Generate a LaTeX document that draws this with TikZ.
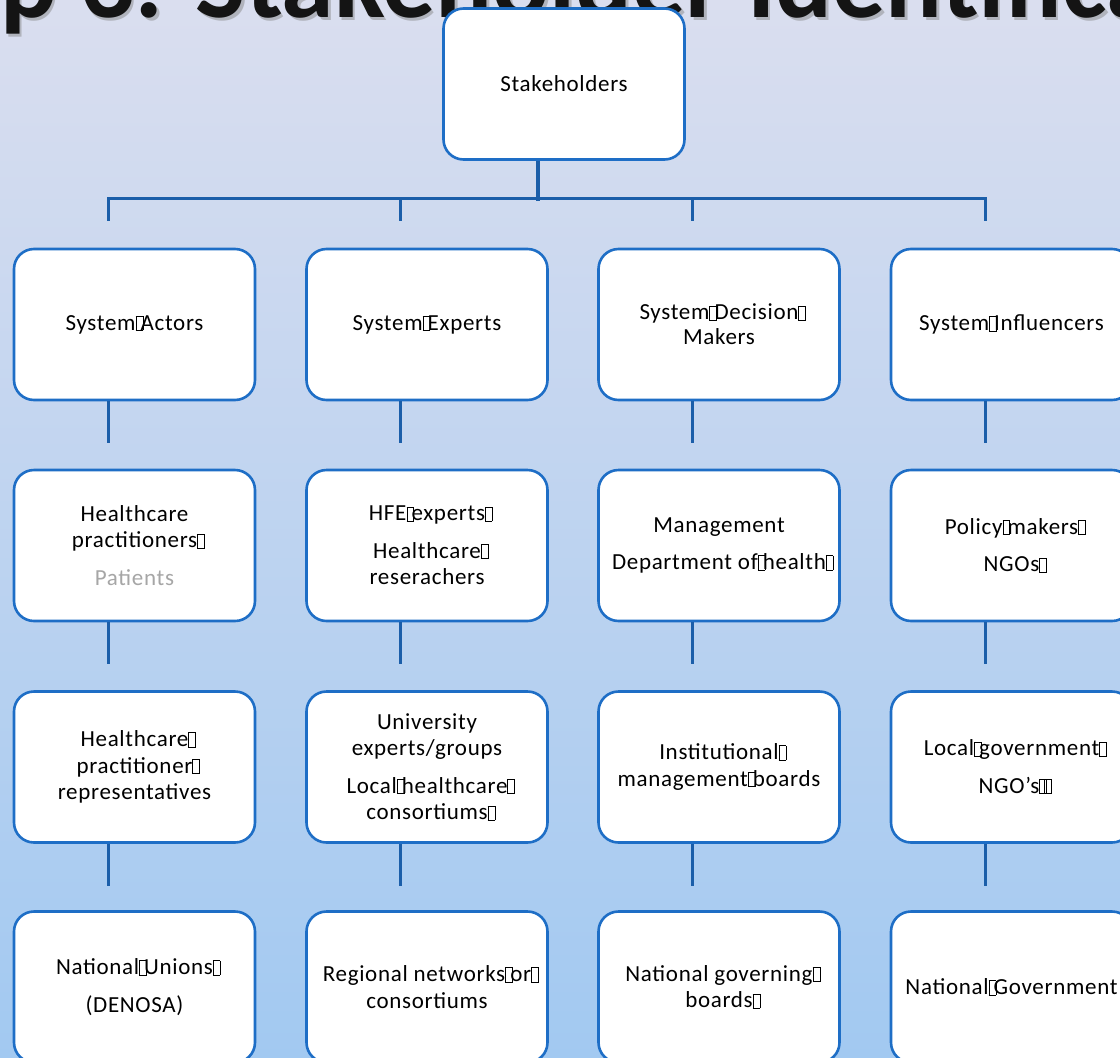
\documentclass[tikz,border=0pt]{standalone}
\usepackage{fontspec}
\setmainfont{Carlito}
\newfontfamily\cardfont{Carlito}[LetterSpace=3]
\usetikzlibrary{calc}

\definecolor{bgtop}{HTML}{DADEEF}
\definecolor{bgmid}{HTML}{C0D4EB}
\definecolor{bgbot}{HTML}{A2C9F1}
\definecolor{boxline}{HTML}{1E6EC6}
\definecolor{linkline}{HTML}{1B5EA9}
\definecolor{muted}{HTML}{A6A6A6}

% placeholder glyph box printed where a character is missing
\newcommand{\mg}{\rlap{\fboxsep=0pt\fboxrule=0.5pt\fbox{\vrule width 0pt height 0.6em\hspace{0.28em}}}\hspace{0.22em}}

\begin{document}
\begin{tikzpicture}[x=1pt,y=-1pt,
  every node/.style={font=\cardfont\fontsize{23}{26.5}\selectfont},
  card/.style={draw=boxline, line width=2.6pt, fill=white, rounded corners=20pt,
    minimum width=241pt, minimum height=151pt, align=center, inner sep=0pt},
  link/.style={draw=linkline, line width=3pt},
  trunk/.style={link, line width=4.2pt},
  headline/.style={anchor=base west, inner sep=0pt, font=\rmfamily\fontsize{106}{110}\selectfont\bfseries}]

\useasboundingbox (0,0) rectangle (1120,1058);
\clip (0,0) rectangle (1120,1058);
\shade[top color=bgtop, middle color=bgmid, bottom color=bgbot] (0,0) rectangle (1120,1058);

% heading with its soft drop shadow
\node[headline, text=black!50, opacity=0.45] (headshadow) at (2.5,20) {p 3: Stakeholder Identification};
\node[headline, text=black!92] (head) at (0,17.5) {p 3: Stakeholder Identification};

% root
\node[card] (root) at (564,84) {Stakeholders};

% row 1
\node[card] (n11) at (134.5,324.5) {System\mg Actors};
\node[card] (n12) at (427,324.5) {System\mg Experts};
\node[card] (n13) at (719,324.5) {System\mg Decision\mg\\[-1.5pt]Makers};
\node[card] (n14) at (1011.5,324.5) {System\mg Influencers};

% row 2
\node[card] (n21) at (134.5,545.5) {Healthcare\\practitioners\mg\\[11pt]\textcolor{muted}{Patients}};
\node[card] (n22) at (427,545.5) {HFE\mg experts\mg\\[11pt]Healthcare\mg\\reserachers};
\node[card] (n23) at (719,545.5) {Management\\[11pt]Department of\mg health\mg};
\node[card] (n24) at (1011.5,545.5) {Policy\mg makers\mg\\[11pt]NGOs\mg};

% row 3
\node[card] (n31) at (134.5,767) {Healthcare\mg\\practitioner\mg\\representatives};
\node[card] (n32) at (427,767) {University\\experts/groups\\[11pt]Local\mg healthcare\mg\\consortiums\mg};
\node[card] (n33) at (719,767) {Institutional\mg\\management\mg boards};
\node[card] (n34) at (1011.5,767) {Local\mg government\mg\\[11pt]NGO’s\mg\mg};

% row 4
\node[card] (n41) at (134.5,987) {National\mg Unions\mg\\[11pt](DENOSA)};
\node[card] (n42) at (427,987) {Regional networks\mg or\mg\\consortiums};
\node[card] (n43) at (719,987) {National governing\mg\\boards\mg};
\node[card] (n44) at (1011.5,987) {National\mg Government};

% trunk from the root to the branch bar
\coordinate (hub) at ($(root.south)+(-26,40)$);
\draw[trunk] ($(root.south)+(-26,0)$) -- (hub);
\coordinate (t1) at ($(n11.north)+(-26.5,-49)$);
\coordinate (t2) at ($(n12.north)+(-26.5,-49)$);
\coordinate (t3) at ($(n13.north)+(-26.5,-49)$);
\coordinate (t4) at ($(n14.north)+(-26.5,-49)$);
\draw[link] ($(t1)+(0,22)$) -- (t1) -- (t4) -- ($(t4)+(0,22)$);
\draw[link] (t2) -- ++(0,22);
\draw[link] (t3) -- ++(0,22);

% short stems below each card of rows 1 to 3
\foreach \r in {1,2,3}{
  \foreach \c in {1,2,3,4}{
    \draw[link] ($(n\r\c.south)+(-26.5,0)$) -- ++(0,42);
  }
}
\end{tikzpicture}
\end{document}
